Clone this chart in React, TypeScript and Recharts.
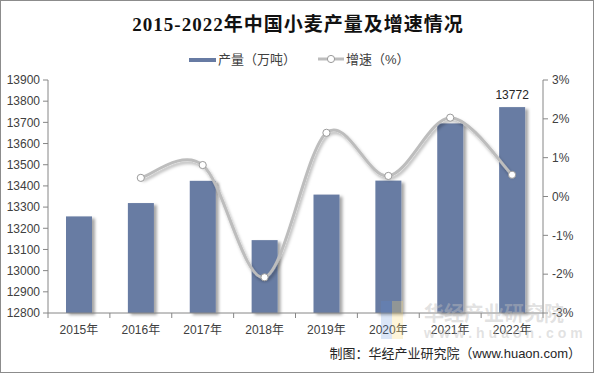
import React from "react";
import { ComposedChart, Bar, Line, XAxis, YAxis, LabelList } from "recharts";

const years = ["2015年", "2016年", "2017年", "2018年", "2019年", "2020年", "2021年", "2022年"];
const output = [13256, 13319, 13424, 13144, 13359, 13425, 13695, 13772];
const growth = [null, 0.48, 0.81, -2.08, 1.64, 0.53, 2.03, 0.56];
const outputTicks = [12800, 12900, 13000, 13100, 13200, 13300, 13400, 13500, 13600, 13700, 13800, 13900];
const growthTicks = [-3, -2, -1, 0, 1, 2, 3];

const data = years.map((year, i) => ({
  year,
  output: output[i],
  growth: growth[i],
  outputLabel: i === years.length - 1 ? output[i] : undefined,
}));

const W = 594;
const H = 373;
const PLOT_LEFT = 48;
const PLOT_RIGHT = 543;
const BAND = (PLOT_RIGHT - PLOT_LEFT) / years.length;

const AXIS_COLOR = "#868686";
const TEXT_COLOR = "#404040";
const BAR_COLOR = "#677ba3";
const LINE_COLOR = "#bdbdbd";
const FONT = "'Liberation Sans', Arial, 'Noto Sans CJK SC', sans-serif";

// Excel-style smoothing (Catmull-Rom through every point)
function excelCurve(context: any) {
  let pts: [number, number][] = [];
  return {
    areaStart() {},
    areaEnd() {},
    lineStart() {
      pts = [];
    },
    lineEnd() {
      if (!pts.length) return;
      context.moveTo(pts[0][0], pts[0][1]);
      for (let i = 0; i < pts.length - 1; i++) {
        const p0 = pts[Math.max(i - 1, 0)];
        const p1 = pts[i];
        const p2 = pts[i + 1];
        const p3 = pts[Math.min(i + 2, pts.length - 1)];
        context.bezierCurveTo(
          p1[0] + (p2[0] - p0[0]) / 6,
          p1[1] + (p2[1] - p0[1]) / 6,
          p2[0] - (p3[0] - p1[0]) / 6,
          p2[1] - (p3[1] - p1[1]) / 6,
          p2[0],
          p2[1]
        );
      }
    },
    point(x: number, y: number) {
      pts.push([x, y]);
    },
  };
}

const BarShape = (props: any) => {
  const { x, y, width, height } = props;
  return <rect x={x} y={y} width={width} height={height} fill={BAR_COLOR} filter="url(#barShadow)" />;
};

const XTick = (props: any) => {
  const { x, y, payload, index } = props;
  return (
    <g>
      <line x1={x - BAND / 2} y1={y} x2={x - BAND / 2} y2={y + 5} stroke={AXIS_COLOR} />
      {index === years.length - 1 && (
        <line x1={x + BAND / 2} y1={y} x2={x + BAND / 2} y2={y + 5} stroke={AXIS_COLOR} />
      )}
      <text x={x} y={y + 21} textAnchor="middle" fontSize={12} fill={TEXT_COLOR} fontFamily={FONT}>
        {payload.value}
      </text>
    </g>
  );
};

const Dot = (props: any) => {
  const { cx, cy, value } = props;
  if (value == null || cx == null || cy == null) return null;
  return <circle cx={cx} cy={cy} r={3.6} fill="#ffffff" stroke="#9a9a9a" strokeWidth={1} />;
};

export default function App() {
  return (
    <div
      style={{
        position: "absolute",
        left: 0,
        top: 0,
        width: W,
        height: H,
        boxSizing: "border-box",
        border: "1px solid #8c8c8c",
        background: "#fff",
        fontFamily: FONT,
        overflow: "hidden",
      }}
    >
      <div style={{ position: "absolute", left: -1, top: -1 }}>
        <ComposedChart
          width={W}
          height={H}
          data={data}
          margin={{ top: 80, right: 0, bottom: 30, left: 0 }}
          barCategoryGap={0}
        >
          <defs>
            <filter id="barShadow" x="-20%" y="-10%" width="150%" height="120%">
              <feDropShadow dx={3} dy={2} stdDeviation={1.5} floodColor="#000" floodOpacity={0.35} />
            </filter>
            <filter id="lineShadow" x="-10%" y="-20%" width="120%" height="140%">
              <feDropShadow dx={1.5} dy={2.5} stdDeviation={1.5} floodColor="#000" floodOpacity={0.3} />
            </filter>
          </defs>
          <XAxis
            dataKey="year"
            height={30}
            axisLine={{ stroke: AXIS_COLOR }}
            tickLine={false}
            tickSize={0}
            tickMargin={0}
            interval={0}
            tick={<XTick />}
          />
          <YAxis
            yAxisId="left"
            width={48}
            domain={[12800, 13900]}
            ticks={outputTicks}
            interval={0}
            tickSize={5}
            tickMargin={3}
            axisLine={{ stroke: AXIS_COLOR }}
            tickLine={{ stroke: AXIS_COLOR }}
            tick={{ fontSize: 12, fill: TEXT_COLOR, fontFamily: FONT }}
          />
          <YAxis
            yAxisId="right"
            orientation="right"
            width={51}
            domain={[-3, 3]}
            ticks={growthTicks}
            interval={0}
            tickSize={5}
            tickMargin={4}
            tickFormatter={(v: number) => `${v}%`}
            axisLine={{ stroke: AXIS_COLOR }}
            tickLine={{ stroke: AXIS_COLOR }}
            tick={{ fontSize: 12, fill: TEXT_COLOR, fontFamily: FONT }}
          />
          <Bar yAxisId="left" dataKey="output" barSize={26} shape={<BarShape />} isAnimationActive={false}>
            <LabelList
              dataKey="outputLabel"
              position="top"
              offset={8}
              fontSize={12}
              fill="#262626"
              fontFamily={FONT}
            />
          </Bar>
          <Line
            yAxisId="right"
            dataKey="growth"
            type={excelCurve as any}
            stroke={LINE_COLOR}
            strokeWidth={3}
            filter="url(#lineShadow)"
            dot={<Dot />}
            activeDot={false}
            isAnimationActive={false}
          />
        </ComposedChart>
      </div>

      {/* title */}
      <div
        style={{
          position: "absolute",
          left: 0,
          top: 12,
          width: W,
          textAlign: "center",
          fontFamily: "'Liberation Serif', 'Times New Roman', 'Noto Sans CJK SC', serif",
          fontWeight: "bold",
          fontSize: 19,
          letterSpacing: 1,
          color: "#111",
          lineHeight: "24px",
        }}
      >
        2015-2022年中国小麦产量及增速情况
      </div>

      {/* legend */}
      <div style={{ position: "absolute", left: 188, top: 57, width: 27, height: 4, background: BAR_COLOR }} />
      <div style={{ position: "absolute", left: 217, top: 50, fontSize: 13, color: TEXT_COLOR, lineHeight: "17px" }}>
        产量（万吨）
      </div>
      <svg style={{ position: "absolute", left: 316, top: 52 }} width={28} height={12}>
        <line x1={1} y1={6} x2={27} y2={6} stroke={LINE_COLOR} strokeWidth={3} />
        <circle cx={14} cy={6} r={3.6} fill="#fff" stroke="#9a9a9a" strokeWidth={1} />
      </svg>
      <div style={{ position: "absolute", left: 345, top: 50, fontSize: 13, color: TEXT_COLOR, lineHeight: "17px" }}>
        增速（%）
      </div>

      {/* watermark */}
      <div style={{ position: "absolute", left: 380, top: 300, width: 11, height: 38, background: "rgba(90,140,220,0.22)" }} />
      <div style={{ position: "absolute", left: 391, top: 300, width: 11, height: 38, background: "rgba(250,220,120,0.28)" }} />
      <div
        style={{
          position: "absolute",
          left: 423,
          top: 300,
          fontSize: 20,
          fontWeight: "bold",
          color: "rgba(190,190,190,0.45)",
          lineHeight: "24px",
          fontFamily: "'Noto Sans CJK SC', sans-serif",
        }}
      >
        华经产业研究院
      </div>
      <div
        style={{
          position: "absolute",
          left: 423,
          top: 324,
          fontSize: 14,
          fontWeight: "bold",
          letterSpacing: 4,
          color: "rgba(190,190,190,0.45)",
          lineHeight: "16px",
        }}
      >
        www.huaon.com
      </div>

      {/* source */}
      <div
        style={{
          position: "absolute",
          right: 12,
          top: 344,
          fontSize: 13,
          color: "#262626",
          lineHeight: "18px",
          whiteSpace: "nowrap",
        }}
      >
        制图：华经产业研究院（www.huaon.com）
      </div>
    </div>
  );
}
